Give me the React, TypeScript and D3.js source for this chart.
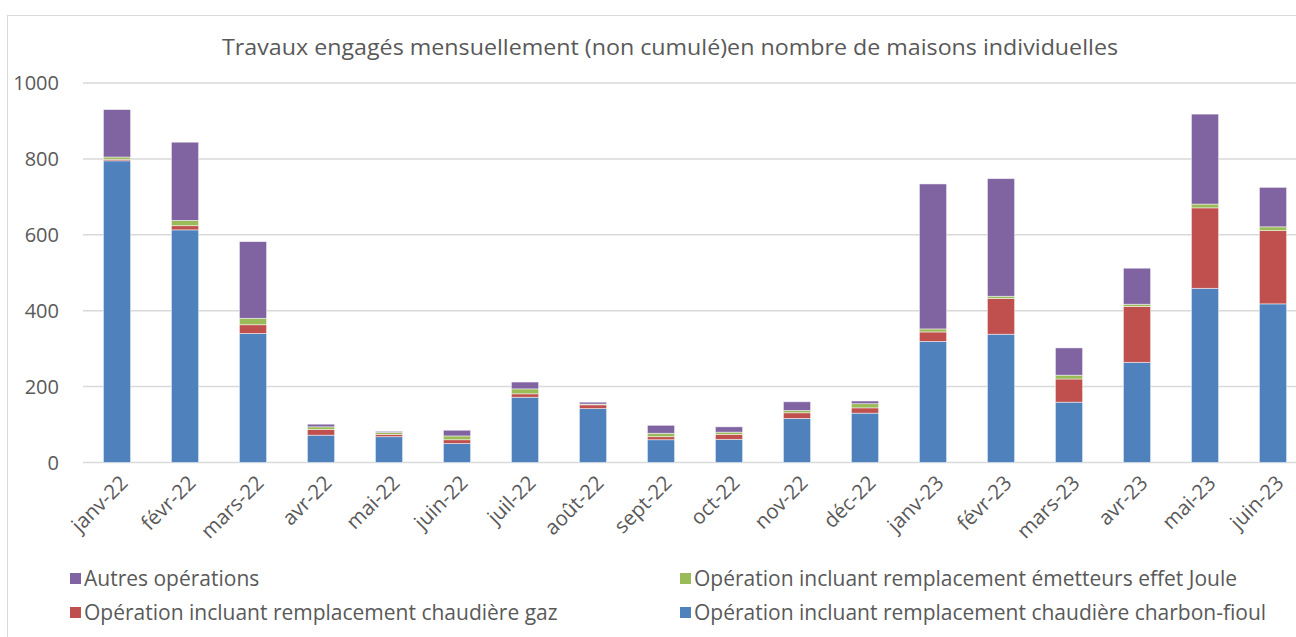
import React from "react";
import * as d3 from "d3";

const categories = ["janv-22","févr-22","mars-22","avr-22","mai-22","juin-22","juil-22","août-22","sept-22","oct-22","nov-22","déc-22","janv-23","févr-23","mars-23","avr-23","mai-23","juin-23"];
const charbonFioul = [795, 613, 340, 72, 68, 50, 172, 142, 60, 61, 116, 130, 319, 338, 159, 264, 459, 418];
const chaudiereGaz = [4, 11, 23, 15, 6, 10, 9, 10, 8, 13, 15, 14, 25, 94, 61, 147, 212, 193];
const effetJoule = [6, 14, 17, 7, 5, 10, 13, 2, 9, 6, 6, 11, 8, 6, 10, 6, 10, 10];
const autres = [125, 206, 202, 7, 3, 15, 18, 5, 21, 14, 23, 7, 382, 310, 72, 95, 237, 104];
const yTicks = [0, 200, 400, 600, 800, 1000];

const seriesKeys = ["charbon", "gaz", "joule", "autres"];
const seriesColors: Record<string, string> = {
  charbon: "#4f81bd",
  gaz: "#c0504d",
  joule: "#9bbb59",
  autres: "#8064a2",
};
const legendItems = [
  { key: "autres", label: "Autres opérations", col: 0, row: 0 },
  { key: "joule", label: "Opération incluant remplacement émetteurs effet Joule", col: 1, row: 0 },
  { key: "gaz", label: "Opération incluant remplacement chaudière gaz", col: 0, row: 1 },
  { key: "charbon", label: "Opération incluant remplacement chaudière charbon-fioul", col: 1, row: 1 },
];

const FONT = "'Open Sans', 'Noto Sans', sans-serif";
const TXT = "#595959";

export default function App() {
  const W = 1296, H = 637;
  const plotLeft = 83, plotRight = 83 + 68 * 18;
  const y0 = 462.5, y1 = 83;

  const rows = categories.map((c, i) => ({
    cat: c,
    charbon: charbonFioul[i],
    gaz: chaudiereGaz[i],
    joule: effetJoule[i],
    autres: autres[i],
  }));
  const stacked = d3.stack<any>().keys(seriesKeys)(rows);

  const x = d3.scaleBand().domain(categories).range([plotLeft, plotRight]).paddingInner(0.6).paddingOuter(0.3);
  const y = d3.scaleLinear().domain([0, 1000]).range([y0, y1]);

  return (
    <svg width={W} height={H} style={{ position: "absolute", left: 0, top: 0, display: "block" }}>
      <rect x={0} y={0} width={W} height={H} fill="#fff" />
      <rect x={7.5} y={15.5} width={W + 20} height={H + 20} fill="none" stroke="#d9d9d9" strokeWidth={1} />
      <text x={670} y={55} textAnchor="middle" fontFamily={FONT} fontSize={22} fill={TXT} textLength={896} lengthAdjust="spacingAndGlyphs">
        Travaux engagés mensuellement (non cumulé)en nombre de maisons individuelles
      </text>
      {yTicks.map((t) => (
        <g key={t}>
          <line x1={plotLeft} x2={W} y1={y(t)} y2={y(t)} stroke="#d9d9d9" strokeWidth={1.5} />
          <text x={59} y={y(t)} dy="0.35em" textAnchor="end" fontFamily={FONT} fontSize={20} fill={TXT}>
            {t}
          </text>
        </g>
      ))}
      {stacked.map((s) => (
        <g key={s.key} fill={seriesColors[s.key]}>
          {s.map((d, i) => (
            <rect
              key={i}
              x={x(categories[i])}
              y={y(d[1])}
              width={x.bandwidth()}
              height={Math.max(0, y(d[0]) - y(d[1]))}
              stroke="#ffffff"
              strokeOpacity={0.6}
              strokeWidth={0.8}
            />
          ))}
        </g>
      ))}
      {categories.map((c) => {
        const cx = (x(c) as number) + x.bandwidth() / 2;
        return (
          <text
            key={c}
            transform={`translate(${cx + 2},${474}) rotate(-45)`}
            textAnchor="end"
            dy="0.7em"
            fontFamily={FONT}
            fontSize={20.5}
            fill={TXT}
          >
            {c}
          </text>
        );
      })}
      {legendItems.map((l) => {
        const lx = l.col === 0 ? 70 : 680;
        const ly = l.row === 0 ? 579 : 613;
        return (
          <g key={l.key}>
            <rect x={lx} y={ly - 6} width={11} height={11} fill={seriesColors[l.key]} />
            <text x={lx + 14} y={ly} dy="0.35em" fontFamily={FONT} fontSize={21} fill={TXT}>
              {l.label}
            </text>
          </g>
        );
      })}
    </svg>
  );
}
